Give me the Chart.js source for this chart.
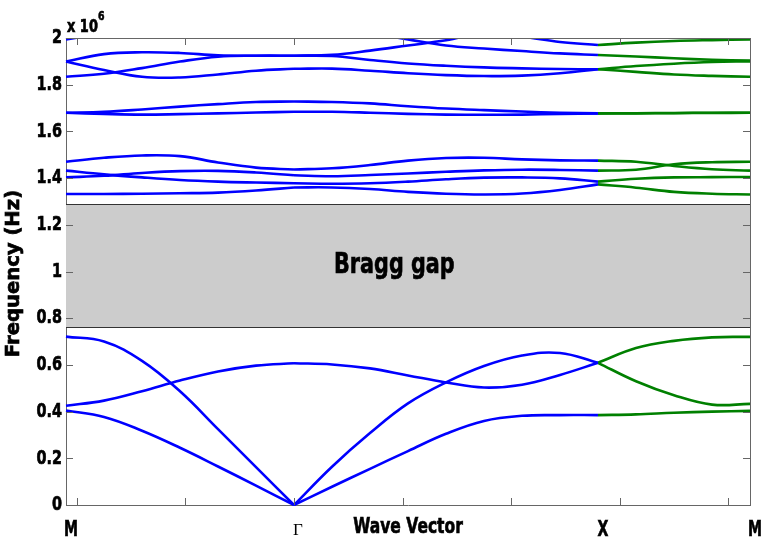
<!DOCTYPE html>
<html>
<head>
<meta charset="utf-8">
<script src="https://cdn.jsdelivr.net/npm/chart.js@4.4.1/dist/chart.umd.min.js"></script>
<style>
  html, body { margin: 0; padding: 0; background: #fff; }
</style>
</head>
<body>
<canvas id="bands" width="763" height="541"></canvas>
<script>
// wave vector path M -> Gamma -> X -> M, sampled every 0.25
const K = [0, 0.25, 0.5, 0.75, 1, 1.25, 1.5, 1.75, 2, 2.25, 2.5, 2.75, 3, 3.25, 3.5, 3.75, 4, 4.25, 4.5];
const PATH_LABELS = ['M', 'Γ', 'X', 'M'];
const PATH_POS = [0, 1.5, 3.5, 4.5];
const X_TICKS = [0.072, 0.786, 1.5, 2.214, 2.929, 3.643, 4.357];
const Y_TICKS = [0, 0.2, 0.4, 0.6, 0.8, 1, 1.2, 1.4, 1.6, 1.8, 2];

// band gap (x 10^6 Hz)
const GAP = [0.762, 1.289];
const GAP_LABEL = 'Bragg gap';
const GAP_LABEL_K = 2.16;

// frequencies, x 10^6 Hz
const acoustic1 = [0.405, 0.377, 0.318, 0.245, 0.165, 0.083, 0, 0.078, 0.155, 0.231, 0.305, 0.36, 0.382, 0.385, 0.385, 0.388, 0.395, 0.40, 0.403];
const acoustic2 = [0.425, 0.447, 0.487, 0.533, 0.572, 0.597, 0.607, 0.602, 0.585, 0.555, 0.525, 0.503, 0.515, 0.557, 0.609, 0.53, 0.47, 0.43, 0.433];
const acoustic3 = [0.721, 0.70, 0.617, 0.487, 0.325, 0.162, 0, 0.164, 0.308, 0.435, 0.525, 0.595, 0.64, 0.651, 0.609, 0.672, 0.703, 0.718, 0.72];

const band4 = [1.332, 1.332, 1.333, 1.335, 1.338, 1.347, 1.360, 1.360, 1.353, 1.341, 1.333, 1.330, 1.334, 1.349, 1.373, 1.359, 1.341, 1.333, 1.330];
const band5 = [1.432, 1.416, 1.403, 1.392, 1.385, 1.381, 1.378, 1.376, 1.378, 1.385, 1.395, 1.402, 1.403, 1.399, 1.385, 1.397, 1.403, 1.404, 1.405];
const band6 = [1.403, 1.410, 1.422, 1.430, 1.431, 1.424, 1.412, 1.408, 1.413, 1.420, 1.427, 1.433, 1.436, 1.435, 1.432, 1.436, 1.459, 1.468, 1.470];
const band7 = [1.470, 1.487, 1.497, 1.494, 1.467, 1.445, 1.437, 1.442, 1.456, 1.475, 1.486, 1.487, 1.480, 1.476, 1.475, 1.470, 1.452, 1.438, 1.432];

const band8 = [1.680, 1.675, 1.672, 1.674, 1.677, 1.681, 1.684, 1.684, 1.680, 1.675, 1.672, 1.671, 1.672, 1.675, 1.677, 1.677, 1.678, 1.679, 1.680];
const band9 = [1.680, 1.684, 1.694, 1.706, 1.717, 1.726, 1.728, 1.726, 1.720, 1.708, 1.698, 1.691, 1.685, 1.680, 1.677, 1.678, 1.679, 1.680, 1.680];

const band10 = [1.899, 1.863, 1.834, 1.831, 1.844, 1.860, 1.868, 1.869, 1.860, 1.849, 1.841, 1.837, 1.839, 1.849, 1.866, 1.855, 1.844, 1.838, 1.834];
const band11 = [1.834, 1.847, 1.871, 1.899, 1.920, 1.924, 1.924, 1.928, 1.946, 1.968, 1.990, 2.02, 2.005, 1.983, 1.970, 1.980, 1.987, 1.991, 1.994];
const band12 = [1.899, 1.931, 1.939, 1.936, 1.926, 1.924, 1.924, 1.923, 1.906, 1.891, 1.881, 1.874, 1.870, 1.867, 1.866, 1.880, 1.890, 1.897, 1.900];
const band13 = [null, null, null, null, null, null, null, null, 2.022, 1.994, 1.968, 1.955, 1.944, 1.934, 1.927, 1.921, 1.913, 1.907, 1.903];
const band14 = [1.994, 2.02, null, null, null, null, null, null, null, null, null, null, null, null, null, null, null, null, null];

const BANDS = [acoustic1, acoustic2, acoustic3, band4, band5, band6, band7, band8, band9, band10, band11, band12, band13, band14];

const BLUE = '#0000ff';
const GREEN = '#008000';
const FONT = '"DejaVu Sans", sans-serif';

// M-Gamma and Gamma-X in blue, X-M in green
const SEGMENTS = [[0, 6, BLUE], [6, 14, BLUE], [14, 18, GREEN]];

const datasets = [];
BANDS.forEach(vals => {
  SEGMENTS.forEach(([a, b, color]) => {
    const pts = [];
    for (let i = a; i <= b; i++) {
      if (vals[i] !== null) pts.push({ x: K[i], y: vals[i] });
    }
    if (pts.length < 2) return;
    datasets.push({
      data: pts,
      borderColor: color,
      borderWidth: 2.6,
      pointRadius: 0,
      tension: 0.4,
      clip: { left: 1, top: 0, right: 1, bottom: 1 }
    });
  });
});

// condensed heavy text: bold face squeezed horizontally
function heavyText(ctx, text, x, y, size, sx, align, baseline, rot) {
  ctx.save();
  ctx.translate(x, y);
  if (rot) ctx.rotate(rot);
  ctx.scale(sx, 1);
  ctx.font = 'bold ' + size + 'px ' + FONT;
  ctx.textAlign = align;
  ctx.textBaseline = baseline;
  ctx.fillStyle = '#000';
  ctx.strokeStyle = '#000';
  ctx.lineWidth = 0.7;
  ctx.fillText(text, 0, 0);
  ctx.strokeText(text, 0, 0);
  ctx.restore();
}

const frame = {
  id: 'frame',
  beforeDatasetsDraw(chart) {
    const { ctx, chartArea: a, scales: { x, y } } = chart;
    const top = Math.round(y.getPixelForValue(GAP[1]));
    const bot = Math.round(y.getPixelForValue(GAP[0]));
    ctx.save();
    ctx.fillStyle = '#cccccc';
    ctx.fillRect(a.left, top, a.right - a.left, bot - top);
    ctx.strokeStyle = '#333';
    ctx.lineWidth = 1;
    ctx.beginPath();
    ctx.moveTo(a.left, top + 0.5); ctx.lineTo(a.right, top + 0.5);
    ctx.moveTo(a.left, bot + 0.5); ctx.lineTo(a.right, bot + 0.5);
    ctx.stroke();
    ctx.restore();
    heavyText(ctx, GAP_LABEL, x.getPixelForValue(GAP_LABEL_K), (top + bot) / 2, 28, 0.74, 'center', 'middle');
  },
  afterDraw(chart) {
    const { ctx, chartArea: a, scales: { x, y } } = chart;
    ctx.save();
    // box top + right
    ctx.strokeStyle = '#666';
    ctx.lineWidth = 1;
    ctx.beginPath();
    ctx.moveTo(a.left, a.top + 0.5); ctx.lineTo(a.right + 0.5, a.top + 0.5);
    ctx.moveTo(a.right + 0.5, a.top); ctx.lineTo(a.right + 0.5, a.bottom);
    // inward ticks
    Y_TICKS.forEach(v => {
      const py = Math.round(y.getPixelForValue(v)) + 0.5;
      ctx.moveTo(a.left, py); ctx.lineTo(a.left + 7, py);
      ctx.moveTo(a.right, py); ctx.lineTo(a.right - 7, py);
    });
    X_TICKS.forEach(v => {
      const px = Math.round(x.getPixelForValue(v)) + 0.5;
      ctx.moveTo(px, a.bottom); ctx.lineTo(px, a.bottom - 7);
      ctx.moveTo(px, a.top); ctx.lineTo(px, a.top + 7);
    });
    ctx.stroke();
    ctx.restore();

    // y tick labels
    Y_TICKS.forEach(v => {
      heavyText(ctx, String(v), a.left - 4, y.getPixelForValue(v), 20, 0.72, 'right', 'middle');
    });

    // symmetry point labels
    PATH_LABELS.forEach((lab, i) => {
      const px = x.getPixelForValue(PATH_POS[i]) + 5;
      if (lab === 'Γ') {
        ctx.save();
        ctx.font = '17px "Liberation Serif", serif';
        ctx.fillStyle = '#000';
        ctx.textAlign = 'center';
        ctx.textBaseline = 'alphabetic';
        ctx.fillText(lab, px - 1, 535);
        ctx.restore();
      } else {
        heavyText(ctx, lab, px, 536, 22, 0.64, 'center', 'alphabetic');
      }
    });

    // axis titles
    heavyText(ctx, 'Wave Vector', (a.left + a.right) / 2, 533, 22, 0.705, 'center', 'alphabetic');
    heavyText(ctx, 'Frequency (Hz)', 14, (a.top + a.bottom) / 2 + 2, 20, 0.98, 'center', 'middle', -Math.PI / 2);

    // exponent
    heavyText(ctx, 'x 10', a.left + 1, 32, 18, 0.72, 'left', 'alphabetic');
    heavyText(ctx, '6', a.left + 32, 20, 13, 0.72, 'left', 'alphabetic');
  }
};

new Chart(document.getElementById('bands'), {
  type: 'line',
  data: { datasets },
  options: {
    responsive: false,
    animation: false,
    devicePixelRatio: 1,
    layout: { padding: { top: 38, right: 13, bottom: 0, left: 0 } },
    plugins: { legend: { display: false }, tooltip: { enabled: false } },
    scales: {
      x: {
        type: 'linear',
        min: 0,
        max: 4.5,
        grid: { display: false, drawTicks: false },
        border: { display: true, color: '#666', width: 1 },
        ticks: { display: false },
        afterFit: s => { s.height = 36; }
      },
      y: {
        type: 'linear',
        min: 0,
        max: 2,
        grid: { display: false, drawTicks: false },
        border: { display: true, color: '#666', width: 1 },
        ticks: { display: false },
        afterFit: s => { s.width = 66; }
      }
    }
  },
  plugins: [frame]
});
</script>
</body>
</html>
